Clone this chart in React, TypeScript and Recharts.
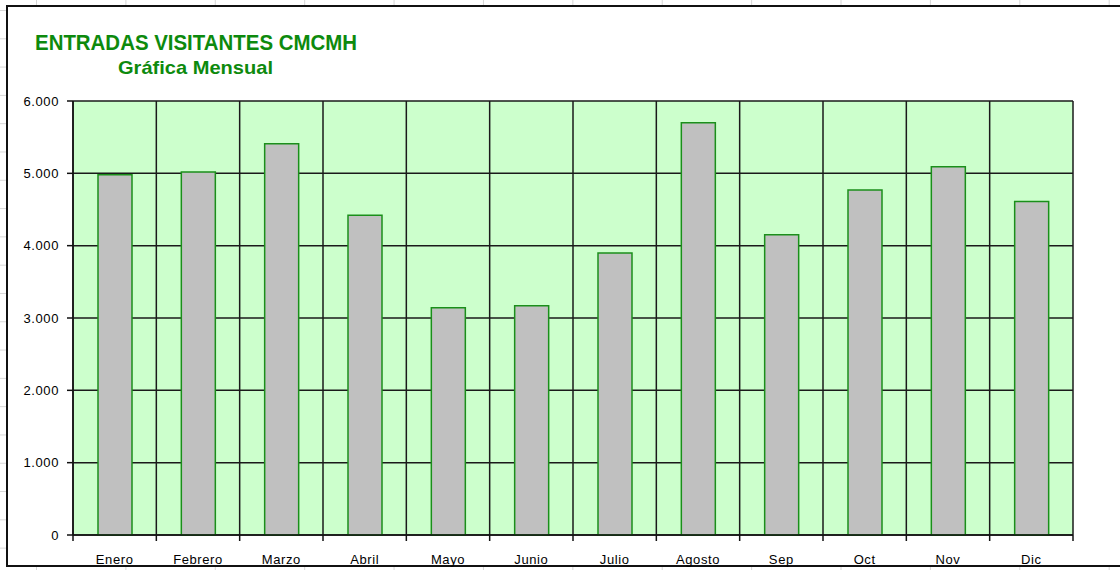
import { BarChart, Bar, XAxis, YAxis, CartesianGrid } from 'recharts';

const CATEGORIES = ['Enero', 'Febrero', 'Marzo', 'Abril', 'Mayo', 'Junio', 'Julio', 'Agosto', 'Sep', 'Oct', 'Nov', 'Dic'];
const VISITANTES = [4980, 5020, 5410, 4420, 3140, 3170, 3900, 5700, 4150, 4770, 5090, 4610];
const Y_TICKS = [0, 1000, 2000, 3000, 4000, 5000, 6000];

const TITLE = 'ENTRADAS VISITANTES CMCMH';
const SUBTITLE = 'Gráfica Mensual';

const W = 1120;
const H = 570;
const MARGIN = { top: 101, right: 47, bottom: 5, left: 13 };
const Y_AXIS_W = 60;
const X_AXIS_H = 30;
const PLOT_W = W - MARGIN.left - MARGIN.right - Y_AXIS_W;
const BAND = PLOT_W / CATEGORIES.length;

const data = CATEGORIES.map((mes, i) => ({ mes, visitantes: VISITANTES[i] }));

const fmt = (v: number) => String(v).replace(/\B(?=(\d{3})+(?!\d))/g, '.');

const font = '"Liberation Sans", Arial, sans-serif';
const GREEN = '#0d8a0d';

function MonthTick(props: any) {
  const { x, y, payload, index } = props;
  const axisY = y - 8;
  const left = x - BAND / 2;
  return (
    <g>
      <line x1={left} y1={axisY} x2={left} y2={axisY + 6} stroke="#111" strokeWidth={1.5} />
      {index === CATEGORIES.length - 1 && (
        <line x1={x + BAND / 2} y1={axisY} x2={x + BAND / 2} y2={axisY + 6} stroke="#111" strokeWidth={1.5} />
      )}
      <text x={x} y={axisY + 29} textAnchor="middle" fontSize={13} letterSpacing={0.6} fill="#000" fontFamily={font}>
        {payload.value}
      </text>
    </g>
  );
}

export default function App() {
  return (
    <div
      style={{
        position: 'absolute',
        left: 0,
        top: 0,
        width: W,
        height: H,
        overflow: 'hidden',
        background: '#fff',
        backgroundImage:
          'linear-gradient(to right, #d6d6d6 1px, transparent 1px), linear-gradient(to bottom, #d6d6d6 1px, transparent 1px)',
        backgroundSize: '89.4px 100%, 100% 28.3px',
        backgroundPosition: '36px 0, 0 10px',
      }}
    >
      {/* chart frame */}
      <div
        style={{
          position: 'absolute',
          left: 6,
          top: 5,
          width: 1200,
          height: 558,
          border: '2px solid #111',
          background: '#fff',
        }}
      />
      <svg width={W} height={90} style={{ position: 'absolute', left: 0, top: 0 }}>
        <text x={35} y={50} fontSize={22} fontWeight="bold" fill={GREEN} fontFamily={font} textLength={322} lengthAdjust="spacingAndGlyphs">
          {TITLE}
        </text>
        <text x={118} y={74} fontSize={19} fontWeight="bold" fill={GREEN} fontFamily={font} textLength={155} lengthAdjust="spacingAndGlyphs">
          {SUBTITLE}
        </text>
      </svg>
      <div style={{ position: 'absolute', left: 0, top: 0 }}>
        <BarChart width={W} height={H} data={data} margin={MARGIN}>
          <CartesianGrid
            fill="#ccffcc"
            fillOpacity={1}
            stroke="#1a1a1a"
            strokeWidth={1.5}
            verticalCoordinatesGenerator={({ offset }: any) =>
              CATEGORIES.map((_, i) => offset.left + i * (offset.width / CATEGORIES.length)).concat(offset.left + offset.width)
            }
          />
          <XAxis
            dataKey="mes"
            height={X_AXIS_H}
            axisLine={{ stroke: '#111', strokeWidth: 1.5 }}
            tickLine={false}
            tick={<MonthTick />}
            interval={0}
          />
          <YAxis
            width={Y_AXIS_W}
            domain={[0, 6000]}
            ticks={Y_TICKS}
            tickFormatter={fmt}
            axisLine={{ stroke: '#111', strokeWidth: 1.5 }}
            tickLine={{ stroke: '#111', strokeWidth: 1.5 }}
            tickSize={6}
            tickMargin={8}
            tick={{ fill: '#000', fontSize: 13, fontFamily: font, letterSpacing: 0.6 }}
          />
          <Bar dataKey="visitantes" fill="#c0c0c0" stroke="#1a8f1a" strokeWidth={1.5} barSize={34} isAnimationActive={false} />
        </BarChart>
      </div>
    </div>
  );
}
